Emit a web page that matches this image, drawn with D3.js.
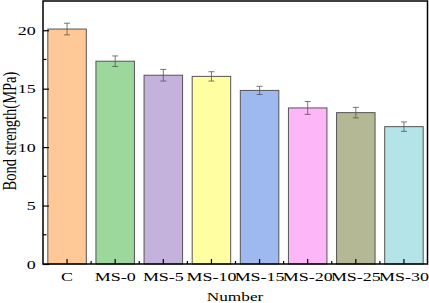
<!DOCTYPE html>
<html>
<head>
<meta charset="utf-8">
<script src="https://cdn.jsdelivr.net/npm/d3@7"></script>
<style>
    body { margin: 0; background: #fff; }
    svg { display: block; }
    text { font-family: "Liberation Serif", "Times New Roman", serif; fill: #000; }
</style>
</head>
<body>
<div id="chart"></div>
<script>
// 数据
const groups = ['C', 'MS-0', 'MS-5', 'MS-10', 'MS-15', 'MS-20', 'MS-25', 'MS-30'];
const strength = [20.1, 17.35, 16.15, 16.05, 14.85, 13.35, 12.95, 11.75];
const errors = [0.5, 0.45, 0.5, 0.4, 0.35, 0.55, 0.45, 0.4];
const barColors = ['#ffc896', '#9cd89c', '#c4b2dc', '#ffffa2', '#9db9f0', '#fdb6f8', '#b4b894', '#b4e3e8'];
const yTicks = [0, 5, 10, 15, 20];

const width = 429, height = 303;
const margin = {top: 1, right: 1, bottom: 39, left: 43};
const sx = 1.33; // 横向拉伸

const svg = d3.select('#chart').append('svg')
    .attr('width', width)
    .attr('height', height);

const x = d3.scaleBand()
    .domain(groups)
    .range([margin.left, width - margin.right])
    .paddingInner(0.2)
    .paddingOuter(0.1);

const y = d3.scaleLinear()
    .domain([0, 22.5])
    .range([height - margin.bottom, margin.top]);

// 柱子
svg.append('g').selectAll('rect')
    .data(groups)
    .join('rect')
    .attr('x', d => x(d))
    .attr('y', (d, i) => y(strength[i]))
    .attr('width', x.bandwidth())
    .attr('height', (d, i) => y(0) - y(strength[i]))
    .attr('fill', (d, i) => barColors[i])
    .attr('stroke', '#555')
    .attr('stroke-width', 1);

// 误差线
const eb = svg.append('g')
    .attr('stroke', '#555')
    .attr('stroke-width', 0.8);
groups.forEach((g, i) => {
    const cx = x(g) + x.bandwidth() / 2;
    const y1 = y(strength[i] + errors[i]);
    const y2 = y(strength[i] - errors[i]);
    eb.append('line').attr('x1', cx).attr('x2', cx).attr('y1', y1).attr('y2', y2);
    eb.append('line').attr('x1', cx - 3).attr('x2', cx + 3).attr('y1', y1).attr('y2', y1);
    eb.append('line').attr('x1', cx - 3).attr('x2', cx + 3).attr('y1', y2).attr('y2', y2);
});

// 外框
svg.append('rect')
    .attr('x', margin.left)
    .attr('y', margin.top)
    .attr('width', width - margin.right - margin.left - 0.5)
    .attr('height', y(0) - margin.top)
    .attr('fill', 'none')
    .attr('stroke', '#000')
    .attr('stroke-width', 1.5);

// Y轴
const yAxis = svg.append('g')
    .attr('transform', `translate(${margin.left},0)`)
    .call(d3.axisLeft(y).tickValues(yTicks).tickSize(-6).tickPadding(0));
yAxis.select('.domain').remove();
yAxis.selectAll('.tick line').attr('stroke', '#000').attr('stroke-width', 1.2);
yAxis.selectAll('.tick text')
    .attr('x', -5.5)
    .attr('transform', `scale(${sx},1)`)
    .style('font-size', '13.5px');
// 次刻度
svg.append('g').selectAll('line')
    .data([2.5, 7.5, 12.5, 17.5])
    .join('line')
    .attr('x1', margin.left).attr('x2', margin.left + 3.5)
    .attr('y1', d => y(d)).attr('y2', d => y(d))
    .attr('stroke', '#000').attr('stroke-width', 1.2);

// X轴
const xAxis = svg.append('g')
    .attr('transform', `translate(0,${y(0)})`)
    .call(d3.axisBottom(x).tickSize(-5).tickPadding(0));
xAxis.select('.domain').remove();
xAxis.selectAll('.tick line').attr('stroke', '#000').attr('stroke-width', 1.2);
xAxis.selectAll('.tick text')
    .attr('y', 17)
    .attr('dy', null)
    .attr('transform', `scale(${sx},1)`)
    .style('font-size', '13.5px');
// 次刻度
svg.append('g').selectAll('line')
    .data(groups.slice(1))
    .join('line')
    .attr('x1', d => x(d) - x.step() * 0.1).attr('x2', d => x(d) - x.step() * 0.1)
    .attr('y1', y(0)).attr('y2', y(0) - 3)
    .attr('stroke', '#000').attr('stroke-width', 1.2);

// 轴标题
svg.append('text')
    .attr('transform', `translate(${(margin.left + width) / 2 - 1},301) scale(${sx},1)`)
    .attr('text-anchor', 'middle')
    .style('font-size', '13px')
    .text('Number');

svg.append('text')
    .attr('transform', `translate(16,131) scale(1.25,1) rotate(-90)`)
    .attr('text-anchor', 'middle')
    .style('font-size', '14.5px')
    .text('Bond strength(MPa)');
</script>
</body>
</html>
